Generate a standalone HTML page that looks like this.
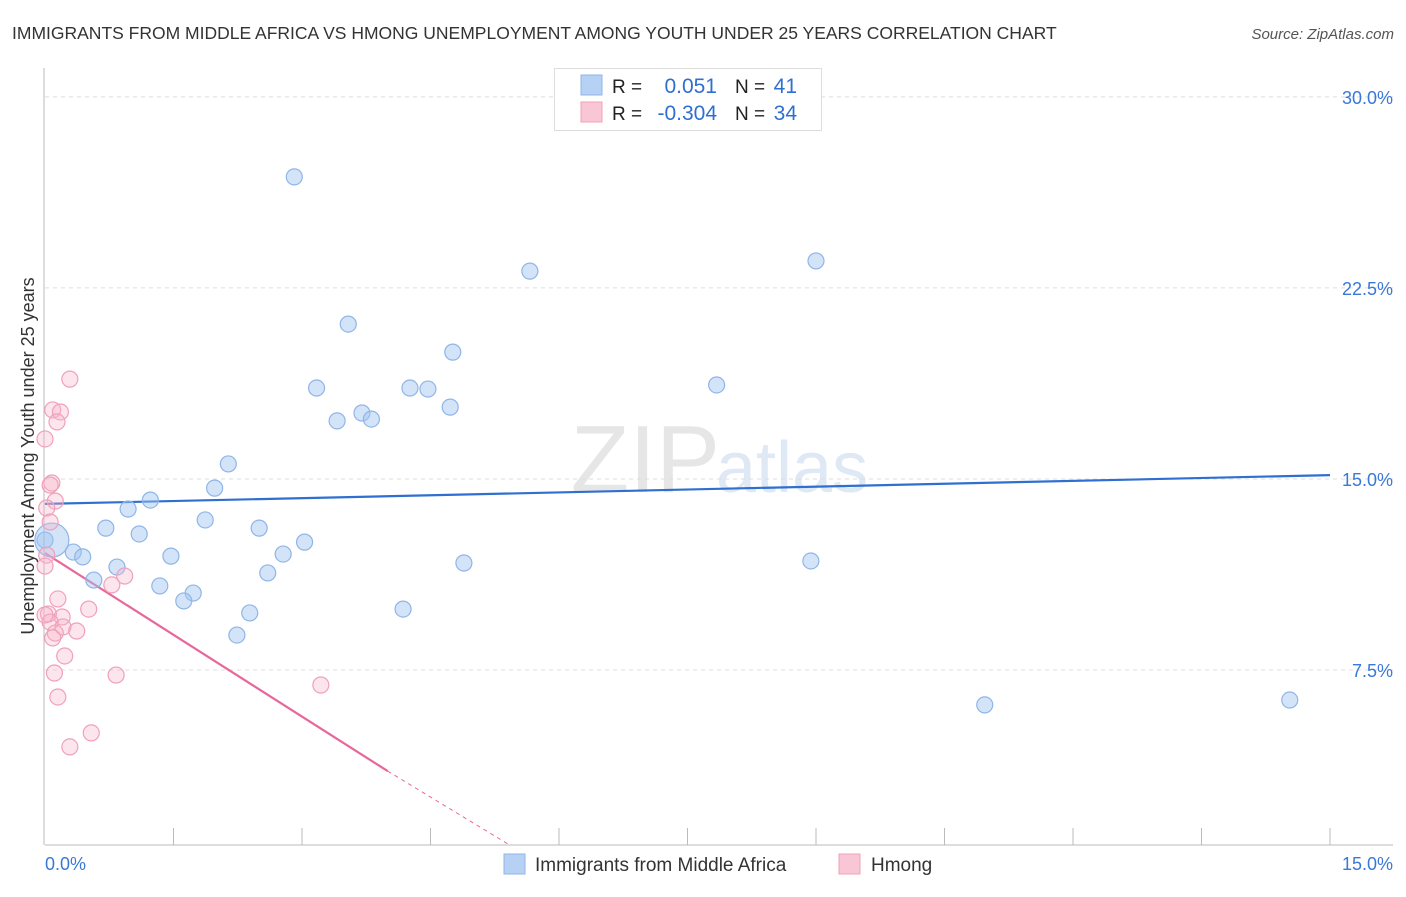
<!DOCTYPE html>
<html><head><meta charset="utf-8"><style>
body{margin:0;background:#fff;font-family:"Liberation Sans",sans-serif}
svg text{font-family:"Liberation Sans",sans-serif}
</style></head><body>
<svg id="c" width="1406" height="892" xmlns="http://www.w3.org/2000/svg">
<text x="12" y="39" font-size="17.5" fill="#333">IMMIGRANTS FROM MIDDLE AFRICA VS HMONG UNEMPLOYMENT AMONG YOUTH UNDER 25 YEARS CORRELATION CHART</text>
<text x="1394" y="39" font-size="15" fill="#555" font-style="italic" text-anchor="end">Source: ZipAtlas.com</text>
<text x="720" y="492" font-size="96" fill="#e6e6e6" text-anchor="end" font-family="Liberation Serif">ZIP</text>
<text x="716" y="492" font-size="72" fill="#dfe8f5">atlas</text>
<g id="grid"></g><g id="axes"></g><g id="lines"></g><g id="pts"></g>
<g>
<rect x="554.5" y="68.5" width="267" height="62" fill="#fff" stroke="#ddd"/>
<rect x="581" y="75" width="21" height="20" fill="#b7d1f4" stroke="#8fb5e8"/>
<rect x="581" y="102" width="21" height="20" fill="#f9c6d6" stroke="#f0a0bb"/>
<text x="612" y="93" font-size="19" fill="#222">R =</text>
<text x="717" y="93" font-size="21" fill="#2f6fd0" text-anchor="end">0.051</text>
<text x="735" y="93" font-size="19" fill="#222">N =</text>
<text x="797" y="93" font-size="21" fill="#2f6fd0" text-anchor="end">41</text>
<text x="612" y="120" font-size="19" fill="#222">R =</text>
<text x="717" y="120" font-size="21" fill="#2f6fd0" text-anchor="end">-0.304</text>
<text x="735" y="120" font-size="19" fill="#222">N =</text>
<text x="797" y="120" font-size="21" fill="#2f6fd0" text-anchor="end">34</text>
</g>
<g>
<rect x="504" y="854" width="21" height="20" fill="#b7d1f4" stroke="#8fb5e8"/>
<text x="535" y="871" font-size="19" fill="#333">Immigrants from Middle Africa</text>
<rect x="839" y="854" width="21" height="20" fill="#f9c6d6" stroke="#f0a0bb"/>
<text x="871" y="871" font-size="19" fill="#333">Hmong</text>
</g>
<text x="0" y="0" font-size="18" fill="#333" text-anchor="middle" transform="translate(34,456) rotate(-90)">Unemployment Among Youth under 25 years</text>
</svg>
<script>
const yTicks=[7.5,15.0,22.5,30.0];
const blueX=[2.91,5.66,9.0,3.54,4.76,3.17,4.26,4.47,7.84,4.73,3.70,3.41,3.81,2.14,1.98,1.23,0.97,1.87,0.71,2.50,1.10,3.03,0.33,0.44,1.47,2.78,4.89,8.94,0.84,2.60,0.57,1.34,1.73,1.62,4.18,2.39,2.24,10.97,14.53,0.0];
const blueY=[26.86,23.16,23.56,21.08,19.98,18.57,18.57,18.53,18.69,17.82,17.59,17.28,17.35,15.59,14.64,14.17,13.82,13.39,13.07,13.07,12.84,12.52,12.13,11.94,11.97,12.05,11.70,11.78,11.54,11.31,11.03,10.80,10.52,10.21,9.89,9.74,8.87,6.13,6.32,12.6];
const pinkX=[0.29,0.09,0.18,0.14,0,0.08,0.06,0.12,0.02,0.06,0.02,0,0.93,0.78,0.15,0.51,0.04,0.20,0.06,0.21,0.37,0.12,0.09,0.23,0.11,0.83,0.15,3.22,0.54,0.29,0];
const pinkY=[18.92,17.71,17.63,17.24,16.57,14.84,14.76,14.13,13.86,13.31,12.01,11.58,11.19,10.84,10.29,9.89,9.70,9.58,9.38,9.19,9.03,8.95,8.76,8.05,7.38,7.30,6.44,6.91,5.03,4.48,9.66];
const bigBlue=[0.08,12.6];
const blueTrend=[14.02,15.15];
const pinkTrend=[12.09,-2.14];
const X=v=>45+v/15*1285, Y=v=>861-v*25.47;
const NS="http://www.w3.org/2000/svg";
function mk(p,t,a){const e=document.createElementNS(NS,t);for(const k in a)e.setAttribute(k,a[k]);document.getElementById(p).appendChild(e);return e;}
yTicks.forEach(t=>{const l=mk('grid','line',{x1:45,x2:1393,y1:Y(t),y2:Y(t),stroke:'#ddd','stroke-dasharray':'4,4'});


const tx=mk('grid','text',{x:1393,y:Y(t)+7,'font-size':18,fill:'#3a78d8','text-anchor':'end'});tx.textContent=t.toFixed(1)+'%';

});
const ax=mk('axes','line',{x1:45,x2:1393,y1:845,y2:845,stroke:'#bbb'});


const ay=mk('axes','line',{x1:44,x2:44,y1:68,y2:845,stroke:'#bbb'});


for(let i=1;i<=10;i++){const t=mk('axes','line',{x1:X(i*1.5),x2:X(i*1.5),y1:828,y2:845,stroke:'#bbb'});

}
const xl0=mk('axes','text',{x:45,y:870,'font-size':18,fill:'#3a78d8'});xl0.textContent='0.0%';


const xl1=mk('axes','text',{x:1393,y:870,'font-size':18,fill:'#3a78d8','text-anchor':'end'});xl1.textContent='15.0%';


blueX.forEach((x,i)=>{const c=mk('pts','circle',{cx:X(x),cy:Y(blueY[i]),r:8,fill:'rgba(160,196,240,0.45)',stroke:'#8fb5e8','stroke-width':1.2});

});
const bb=mk('pts','circle',{cx:X(bigBlue[0]),cy:Y(bigBlue[1]),r:17,fill:'rgba(160,196,240,0.45)',stroke:'#8fb5e8','stroke-width':1.2});


pinkX.forEach((x,i)=>{const c=mk('pts','circle',{cx:X(x),cy:Y(pinkY[i]),r:8,fill:'rgba(246,180,200,0.35)',stroke:'#f0a0bb','stroke-width':1.2});

});
const bl=mk('lines','line',{x1:X(0),y1:Y(blueTrend[0]),x2:X(15),y2:Y(blueTrend[1]),stroke:'#2f6fd0','stroke-width':2.2});


const pe=4.0, pz=-pinkTrend[0]/pinkTrend[1];
const pl=mk('lines','line',{x1:X(0),y1:Y(pinkTrend[0]),x2:X(pe),y2:Y(pinkTrend[0]+pinkTrend[1]*pe),stroke:'#e8679a','stroke-width':2.2});


const pd=mk('lines','line',{x1:X(pe),y1:Y(pinkTrend[0]+pinkTrend[1]*pe),x2:X(pz*0.96),y2:Math.min(845,Y(pinkTrend[0]+pinkTrend[1]*pz*0.96)),stroke:'#e8679a','stroke-width':1,'stroke-dasharray':'4,4'});


</script>
</body></html>
